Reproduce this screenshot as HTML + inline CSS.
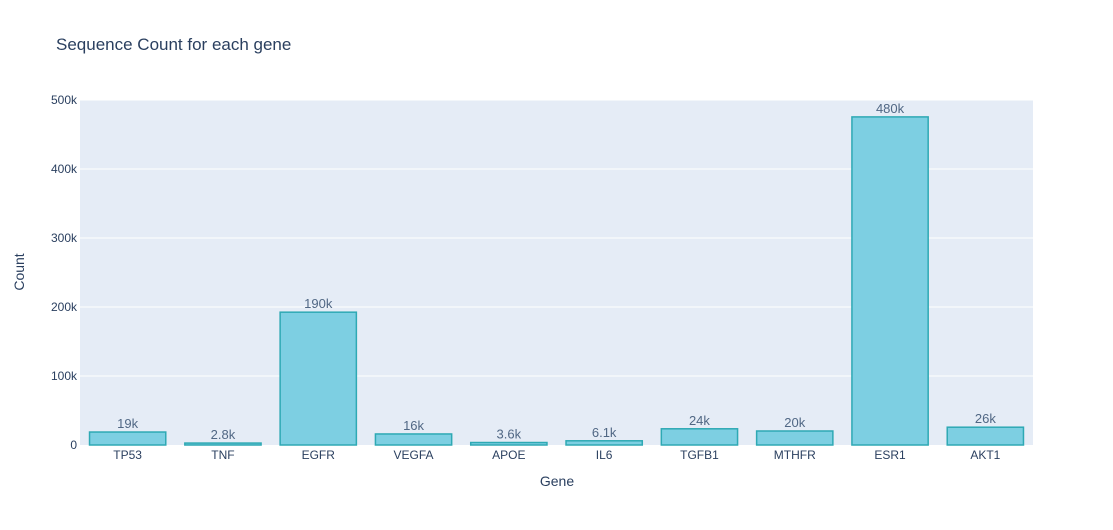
<!DOCTYPE html>
<html><head><meta charset="utf-8"><style>
body{margin:0;background:#fff;font-family:"Liberation Sans",Arial,sans-serif}
svg text{font-family:"Liberation Sans",Arial,sans-serif;fill:#2a3f5f}
</style></head><body>
<svg id="chart" width="1113" height="525">
<rect width="1113" height="525" fill="#fff"/>
<text x="56" y="50" font-size="17">Sequence Count for each gene</text>
<rect x="80" y="100" width="953" height="345" fill="#e5ecf6"/>
<g id="grid"></g><g id="bars"></g><g id="axes"></g>
<text x="557" y="486" font-size="14" text-anchor="middle">Gene</text>
<text x="0" y="0" font-size="14" text-anchor="middle" transform="translate(24,272) rotate(-90)">Count</text>
</svg>
<script>
const categories=["TP53","TNF","EGFR","VEGFA","APOE","IL6","TGFB1","MTHFR","ESR1","AKT1"];
const counts=[18800,2800,192500,16000,3600,6100,23500,20300,475500,25800];
const yTicks=[0,100000,200000,300000,400000,500000];
const yTickLabels=["0","100k","200k","300k","400k","500k"];
const NS="http://www.w3.org/2000/svg";
const x0=80,x1=1033,y0=445,y1=100,ymax=500000;
const band=(x1-x0)/categories.length;
const xs=i=>x0+band*(i+0.5);
const ys=v=>y0-(v/ymax)*(y0-y1);
function mk(tag,attrs,parent){const e=document.createElementNS(NS,tag);for(const k in attrs)e.setAttribute(k,attrs[k]);parent.appendChild(e);return e;}
function fmt(v){const p=Number(v.toPrecision(2));if(p>=1000){let s=(p/1000);return (s>=10?Math.round(s):s.toFixed(1).replace(/\.0$/,""))+"k";}return String(p);}
const grid=document.getElementById('grid'),bars=document.getElementById('bars'),axes=document.getElementById('axes');
yTicks.forEach((t,i)=>{
 if(t>0){const l=mk('line',{x1:x0,x2:x1,y1:ys(t),y2:ys(t),stroke:'#fff','stroke-width':1},grid);
 
 }
 const tx=mk('text',{x:x0-3,y:ys(t)+4,'font-size':12,'text-anchor':'end'},axes);
 tx.textContent=yTickLabels[i];
 
 
});
categories.forEach((c,i)=>{
 const w=band*0.8,v=counts[i];
 const r=mk('rect',{x:xs(i)-w/2,y:ys(v),width:w,height:y0-ys(v),fill:'#7dcfe2',stroke:'#2ea9b4','stroke-width':1.5},bars);
 
 
 const lb=mk('text',{x:xs(i),y:ys(v)-4,'font-size':13,'text-anchor':'middle',style:'fill:#506784'},bars);
 lb.textContent=fmt(v);
 
 
 const tx=mk('text',{x:xs(i),y:y0+14,'font-size':12,'text-anchor':'middle'},axes);
 tx.textContent=c;
 
 
});
</script>
</body></html>
